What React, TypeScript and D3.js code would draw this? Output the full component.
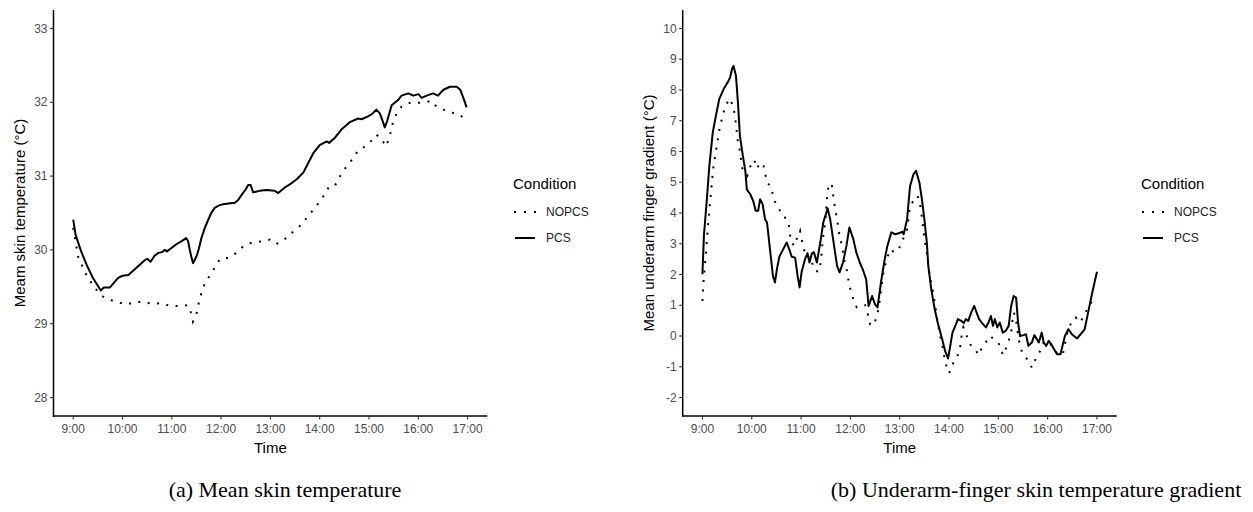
import React from 'react';
import * as d3 from 'd3';

const timeTicks: number[] = [9, 10, 11, 12, 13, 14, 15, 16, 17];
const skinTicks: number[] = [28, 29, 30, 31, 32, 33];
const gradTicks: number[] = [-2, -1, 0, 1, 2, 3, 4, 5, 6, 7, 8, 9, 10];
const conditions: string[] = ['NOPCS', 'PCS'];
const captions: string[] = ['(a) Mean skin temperature', '(b) Underarm-finger skin temperature gradient'];

// [time in hours, value]
const skinPCS: [number, number][] = [
  [9.0, 30.41], [9.05, 30.2], [9.15, 30.0], [9.27, 29.8], [9.4, 29.62], [9.56, 29.45], [9.62, 29.49], [9.74, 29.49],
  [9.82, 29.55], [9.91, 29.62], [10.0, 29.65], [10.12, 29.66], [10.22, 29.72], [10.35, 29.8], [10.45, 29.86], [10.5, 29.88],
  [10.57, 29.84], [10.65, 29.92], [10.73, 29.96], [10.8, 29.97], [10.86, 30.0], [10.9, 29.98], [10.98, 30.02], [11.1, 30.08],
  [11.2, 30.12], [11.29, 30.16], [11.33, 30.12], [11.38, 29.95], [11.43, 29.82], [11.5, 29.91], [11.55, 30.02], [11.6, 30.16],
  [11.67, 30.3], [11.74, 30.41], [11.8, 30.5], [11.87, 30.57], [11.95, 30.6], [12.04, 30.62], [12.15, 30.63], [12.28, 30.64],
  [12.35, 30.68], [12.42, 30.75], [12.5, 30.82], [12.55, 30.88], [12.6, 30.88], [12.65, 30.78], [12.78, 30.8], [12.92, 30.81],
  [13.09, 30.8], [13.16, 30.77], [13.28, 30.84], [13.4, 30.89], [13.54, 30.96], [13.67, 31.05], [13.77, 31.18], [13.87, 31.31],
  [14.0, 31.42], [14.14, 31.47], [14.19, 31.45], [14.31, 31.52], [14.44, 31.63], [14.61, 31.73], [14.78, 31.78], [14.85, 31.77],
  [14.98, 31.81], [15.06, 31.84], [15.15, 31.9], [15.22, 31.85], [15.28, 31.74], [15.32, 31.66], [15.37, 31.75], [15.46, 31.96],
  [15.59, 32.03], [15.66, 32.09], [15.8, 32.12], [15.9, 32.09], [16.0, 32.11], [16.07, 32.06], [16.17, 32.09], [16.3, 32.12],
  [16.4, 32.09], [16.51, 32.17], [16.64, 32.21], [16.78, 32.21], [16.85, 32.17], [16.92, 32.05], [16.98, 31.93],
];

const skinNOPCS: [number, number][] = [
  [9.0, 30.3], [9.1, 29.91], [9.24, 29.69], [9.41, 29.51], [9.54, 29.4], [9.64, 29.35], [9.81, 29.31], [10.08, 29.26],
  [10.29, 29.3], [10.42, 29.29], [10.62, 29.27], [10.79, 29.28], [10.96, 29.24], [11.16, 29.24], [11.33, 29.25], [11.4, 29.13],
  [11.43, 29.03], [11.5, 29.13], [11.54, 29.26], [11.58, 29.37], [11.67, 29.55], [11.81, 29.69], [11.98, 29.88], [12.14, 29.89],
  [12.31, 29.96], [12.45, 30.05], [12.58, 30.09], [12.85, 30.12], [12.99, 30.14], [13.12, 30.08], [13.25, 30.12], [13.5, 30.27],
  [13.63, 30.34], [13.73, 30.43], [13.94, 30.6], [14.1, 30.75], [14.19, 30.86], [14.31, 30.87], [14.38, 30.96], [14.48, 31.07],
  [14.58, 31.16], [14.68, 31.24], [14.78, 31.35], [14.92, 31.4], [15.05, 31.48], [15.15, 31.56], [15.25, 31.51], [15.34, 31.4],
  [15.41, 31.51], [15.49, 31.74], [15.56, 31.85], [15.66, 31.94], [15.8, 31.99], [15.96, 31.99], [16.13, 32.0], [16.27, 32.02],
  [16.37, 31.94], [16.51, 31.9], [16.68, 31.86], [16.82, 31.84], [16.95, 31.77],
];

const gradPCS: [number, number][] = [
  [9.0, 2.01], [9.03, 3.26], [9.09, 4.45], [9.14, 5.53], [9.21, 6.62], [9.26, 7.05], [9.34, 7.7], [9.43, 8.03],
  [9.51, 8.24], [9.56, 8.4], [9.6, 8.68], [9.63, 8.78], [9.68, 8.46], [9.72, 7.59], [9.76, 6.51], [9.82, 5.86],
  [9.87, 5.37], [9.9, 4.77], [9.97, 4.61], [10.03, 4.39], [10.08, 4.07], [10.13, 4.07], [10.17, 4.45], [10.22, 4.29],
  [10.27, 3.8], [10.31, 3.69], [10.37, 2.82], [10.43, 1.95], [10.47, 1.74], [10.51, 2.17], [10.56, 2.58], [10.62, 2.77],
  [10.71, 3.04], [10.76, 2.82], [10.81, 2.58], [10.88, 2.55], [10.93, 1.95], [10.97, 1.58], [11.01, 2.07], [11.08, 2.5],
  [11.13, 2.69], [11.17, 2.39], [11.22, 2.69], [11.26, 2.73], [11.32, 2.39], [11.39, 3.04], [11.45, 3.69], [11.54, 4.15],
  [11.59, 3.8], [11.66, 3.04], [11.73, 2.28], [11.78, 2.07], [11.85, 2.39], [11.92, 2.93], [11.98, 3.53], [12.06, 3.15],
  [12.12, 2.72], [12.19, 2.39], [12.25, 2.17], [12.32, 1.84], [12.37, 0.98], [12.44, 1.3], [12.5, 1.03], [12.55, 0.93],
  [12.62, 1.74], [12.69, 2.44], [12.75, 2.93], [12.83, 3.37], [12.91, 3.31], [12.98, 3.34], [13.05, 3.39], [13.08, 3.31],
  [13.15, 3.8], [13.21, 4.88], [13.28, 5.26], [13.33, 5.37], [13.4, 4.99], [13.45, 4.45], [13.5, 3.8], [13.55, 3.04],
  [13.58, 2.28], [13.64, 1.52], [13.71, 0.87], [13.77, 0.44], [13.86, -0.1], [13.92, -0.48], [13.98, -0.73], [14.02, -0.37],
  [14.07, 0.11], [14.14, 0.38], [14.18, 0.55], [14.25, 0.49], [14.3, 0.42], [14.34, 0.55], [14.39, 0.49], [14.45, 0.76],
  [14.51, 0.98], [14.56, 0.76], [14.61, 0.55], [14.67, 0.42], [14.75, 0.28], [14.8, 0.44], [14.85, 0.65], [14.89, 0.33],
  [14.93, 0.55], [14.98, 0.28], [15.03, 0.44], [15.09, 0.11], [15.15, 0.17], [15.21, 0.33], [15.26, 0.98], [15.31, 1.3],
  [15.36, 1.25], [15.4, 0.44], [15.44, 0.0], [15.51, 0.03], [15.56, 0.06], [15.61, -0.32], [15.68, -0.21], [15.73, 0.03],
  [15.78, -0.1], [15.82, -0.21], [15.88, 0.11], [15.92, -0.21], [15.97, -0.32], [16.02, -0.16], [16.07, -0.26], [16.13, -0.43],
  [16.19, -0.59], [16.26, -0.59], [16.31, -0.26], [16.35, 0.0], [16.42, 0.22], [16.49, 0.06], [16.55, -0.02], [16.6, -0.08],
  [16.67, 0.06], [16.75, 0.22], [16.82, 0.76], [16.89, 1.3], [16.95, 1.74], [17.0, 2.09],
];

const gradNOPCS: [number, number][] = [
  [9.0, 1.14], [9.02, 1.74], [9.05, 2.3], [9.08, 2.88], [9.12, 3.74], [9.17, 4.61], [9.22, 5.48], [9.28, 6.07],
  [9.34, 6.67], [9.41, 7.18], [9.47, 7.48], [9.55, 7.72], [9.63, 7.46], [9.68, 6.89], [9.72, 6.3], [9.76, 6.02],
  [9.8, 5.48], [9.91, 5.21], [9.97, 5.51], [10.05, 5.73], [10.1, 5.45], [10.18, 5.64], [10.24, 5.53], [10.28, 5.23],
  [10.32, 4.97], [10.39, 4.86], [10.43, 4.58], [10.49, 4.29], [10.54, 4.18], [10.62, 3.91], [10.67, 3.86], [10.74, 3.69],
  [10.77, 3.42], [10.79, 3.09], [10.86, 2.93], [10.91, 3.15], [10.98, 3.42], [11.01, 3.15], [11.05, 2.85], [11.12, 2.55],
  [11.17, 2.6], [11.22, 2.39], [11.29, 2.12], [11.36, 2.09], [11.4, 2.39], [11.43, 2.93], [11.45, 3.26], [11.49, 3.69],
  [11.52, 4.39], [11.56, 4.94], [11.62, 4.94], [11.67, 4.34], [11.73, 3.8], [11.78, 3.26], [11.83, 2.93], [11.87, 2.5],
  [11.93, 2.12], [11.98, 1.63], [12.05, 1.25], [12.13, 0.93], [12.23, 0.96], [12.3, 1.0], [12.34, 0.8], [12.4, 0.38],
  [12.47, 0.35], [12.54, 0.65], [12.58, 0.98], [12.64, 1.74], [12.68, 2.17], [12.74, 2.5], [12.81, 2.82], [12.89, 2.72],
  [12.98, 2.82], [13.06, 3.12], [13.15, 3.47], [13.21, 4.25], [13.3, 4.43], [13.36, 4.56], [13.41, 4.32], [13.46, 3.74],
  [13.5, 3.15], [13.55, 2.71], [13.59, 2.17], [13.64, 1.68], [13.68, 1.41], [13.71, 1.09], [13.77, 0.44], [13.82, 0.0],
  [13.86, -0.26], [13.92, -0.84], [13.98, -1.13], [14.0, -1.21], [14.04, -1.1], [14.09, -0.86], [14.15, -0.7], [14.21, -0.52],
  [14.24, -0.21], [14.26, 0.09], [14.29, 0.28], [14.36, 0.0], [14.43, -0.27], [14.53, -0.43], [14.6, -0.62], [14.67, -0.37],
  [14.75, -0.19], [14.83, 0.0], [14.91, -0.1], [15.0, -0.21], [15.06, -0.48], [15.1, -0.62], [15.16, -0.37], [15.21, -0.16],
  [15.26, 0.11], [15.28, 0.44], [15.31, 0.76], [15.35, 0.65], [15.4, 0.0], [15.44, -0.3], [15.49, -0.57], [15.56, -0.7],
  [15.62, -0.84], [15.68, -1.03], [15.76, -0.73], [15.85, -0.48], [15.92, -0.21], [15.98, -0.16], [16.05, -0.24], [16.13, -0.43],
  [16.21, -0.59], [16.31, -0.59], [16.35, -0.26], [16.41, 0.17], [16.48, 0.44], [16.57, 0.6], [16.66, 0.44], [16.75, 0.71],
  [16.82, 0.93], [16.9, 1.14], [16.96, 1.28],
];

const FONT = "'Liberation Sans', Arial, Helvetica, sans-serif";
const DOT = '2 7.5';

type PanelProps = {
  left: number;
  right: number;
  yDomain: [number, number];
  yTicks: number[];
  yLabel: string;
  pcs: [number, number][];
  nopcs: [number, number][];
  legendX: number;
  caption: string;
  captionX: number;
};

function Panel(p: PanelProps) {
  const top = 10;
  const bottom = 416;
  const x = d3.scaleLinear().domain([8.6, 17.4]).range([p.left, p.right]);
  const y = d3.scaleLinear().domain(p.yDomain).range([bottom, top]);
  const line = d3
    .line<[number, number]>()
    .x((d) => x(d[0]))
    .y((d) => y(d[1]))
    .curve(d3.curveLinear);
  const midY = (top + bottom) / 2;
  const midX = (p.left + p.right) / 2;
  return (
    <g>
      <path d={line(p.nopcs) || ''} fill="none" stroke="#000" strokeWidth={2} strokeDasharray={DOT} />
      <path d={line(p.pcs) || ''} fill="none" stroke="#000" strokeWidth={2} strokeLinejoin="round" />
      {/* axes */}
      <line x1={p.left} x2={p.left} y1={top} y2={bottom + 0.75} stroke="#000" strokeWidth={1.5} />
      <line x1={p.left - 0.75} x2={p.right} y1={bottom} y2={bottom} stroke="#000" strokeWidth={1.5} />
      {p.yTicks.map((t) => (
        <g key={'y' + t}>
          <line x1={p.left - 3.5} x2={p.left} y1={y(t)} y2={y(t)} stroke="#333" strokeWidth={1.1} />
          <text x={p.left - 6} y={y(t)} dy="0.35em" textAnchor="end" fontSize={12} fill="#4d4d4d" fontFamily={FONT}>
            {t}
          </text>
        </g>
      ))}
      {timeTicks.map((t) => (
        <g key={'x' + t}>
          <line x1={x(t)} x2={x(t)} y1={bottom} y2={bottom + 3.5} stroke="#333" strokeWidth={1.1} />
          <text x={x(t)} y={bottom + 17} textAnchor="middle" fontSize={12} fill="#4d4d4d" fontFamily={FONT}>
            {t + ':00'}
          </text>
        </g>
      ))}
      <text x={midX} y={bottom + 37} textAnchor="middle" fontSize={15} fill="#000" fontFamily={FONT}>
        Time
      </text>
      <text
        transform={`translate(${p.left - 29},${midY}) rotate(-90)`}
        textAnchor="middle"
        fontSize={15}
        fill="#000"
        fontFamily={FONT}
      >
        {p.yLabel}
      </text>
      {/* legend */}
      <text x={p.legendX} y={189} fontSize={15} fill="#000" fontFamily={FONT}>
        Condition
      </text>
      <line x1={p.legendX + 1} x2={p.legendX + 23} y1={212} y2={212} stroke="#000" strokeWidth={2} strokeDasharray="2 8" />
      <text x={p.legendX + 33} y={212} dy="0.35em" fontSize={12} fill="#222" fontFamily={FONT}>
        {conditions[0]}
      </text>
      <line x1={p.legendX + 2} x2={p.legendX + 22} y1={238} y2={238} stroke="#000" strokeWidth={2} />
      <text x={p.legendX + 33} y={238} dy="0.35em" fontSize={12} fill="#222" fontFamily={FONT}>
        {conditions[1]}
      </text>
      <text
        x={p.captionX}
        y={497}
        textAnchor="middle"
        fontSize={22}
        fill="#000"
        fontFamily="'Liberation Serif', 'Times New Roman', serif"
      >
        {p.caption}
      </text>
    </g>
  );
}

export default function App() {
  return (
    <svg
      width={1253}
      height={512}
      viewBox="0 0 1253 512"
      style={{ position: 'absolute', left: 0, top: 0, background: '#fff' }}
    >
      <rect x={0} y={0} width={1253} height={512} fill="#fff" />
      <Panel
        left={53.5}
        right={487.3}
        yDomain={[27.75, 33.25]}
        yTicks={skinTicks}
        yLabel="Meam skin temperature (°C)"
        pcs={skinPCS}
        nopcs={skinNOPCS}
        legendX={513}
        caption={captions[0]}
        captionX={285}
      />
      <Panel
        left={682.7}
        right={1116.7}
        yDomain={[-2.6, 10.6]}
        yTicks={gradTicks}
        yLabel="Mean underarm finger gradient (°C)"
        pcs={gradPCS}
        nopcs={gradNOPCS}
        legendX={1141}
        caption={captions[1]}
        captionX={1036}
      />
    </svg>
  );
}
